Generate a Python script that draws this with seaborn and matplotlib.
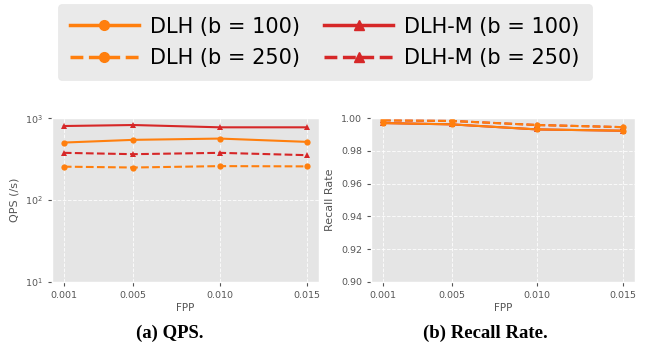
import pandas as pd
import seaborn as sns
import matplotlib.pyplot as plt
from matplotlib.lines import Line2D

# values
fpp = [0.001, 0.005, 0.010, 0.015]
fpp_labels = ['0.001', '0.005', '0.010', '0.015']

qps_dlh_100 = [505, 545, 565, 515]
qps_dlh_250 = [256, 250, 260, 258]
qps_dlhm_100 = [805, 828, 776, 776]
qps_dlhm_250 = [378, 364, 378, 354]

rec_dlh_100 = [0.9971, 0.9963, 0.9932, 0.9924]
rec_dlh_250 = [0.9988, 0.9984, 0.9959, 0.9946]
rec_dlhm_100 = [0.9971, 0.9963, 0.9932, 0.9924]
rec_dlhm_250 = [0.9988, 0.9984, 0.9959, 0.9946]

labels = ['DLH (b = 100)', 'DLH (b = 250)', 'DLH-M (b = 100)', 'DLH-M (b = 250)']
orange = '#ff7f0e'
red = '#d62728'

plt.style.use('ggplot')
plt.rcParams['font.family'] = ['DejaVu Sans']

fig = plt.figure(figsize=(6.55, 3.48), dpi=100)
ax1 = fig.add_axes([0.0789, 0.1905, 0.408, 0.4695])
ax2 = fig.add_axes([0.5664, 0.1905, 0.403, 0.4695])

# (series, colour, dashed, marker) -- DLH-M first so DLH lands on top
series_qps = [(qps_dlhm_100, red, False, '^'), (qps_dlhm_250, red, True, '^'),
              (qps_dlh_100, orange, False, 'o'), (qps_dlh_250, orange, True, 'o')]
series_rec = [(rec_dlhm_100, red, False, '^'), (rec_dlhm_250, red, True, '^'),
              (rec_dlh_100, orange, False, 'o'), (rec_dlh_250, orange, True, 'o')]

for ax, series in [(ax1, series_qps), (ax2, series_rec)]:
    for vals, col, dashed, mk in series:
        df = pd.DataFrame({'FPP': fpp, 'v': vals})
        sns.lineplot(data=df, x='FPP', y='v', ax=ax, color=col, marker=mk,
                     markersize=4.5, markeredgewidth=0, linewidth=1.5,
                     linestyle='--' if dashed else '-')
    ax.set_xticks(fpp)
    ax.set_xticklabels(fpp_labels)
    ax.set_xlabel('FPP', fontsize=7.5, color='#555555', labelpad=2)
    ax.tick_params(labelsize=6.8, colors='#555555', length=3)
    ax.grid(True, color='white', linestyle='--', linewidth=0.7, alpha=0.8)

ax1.set_yscale('log')
ax1.set_ylim(10, 1000)
ax1.set_ylabel('QPS (/s)', fontsize=8, color='#555555')
ax1.minorticks_off()

ax2.set_ylim(0.90, 1.00)
ax2.set_yticks([0.90, 0.92, 0.94, 0.96, 0.98, 1.00])
ax2.set_yticklabels(['0.90', '0.92', '0.94', '0.96', '0.98', '1.00'])
ax2.set_ylabel('Recall Rate', fontsize=8, color='#555555')

handles = [
    Line2D([], [], color=orange, marker='o', linestyle='-', linewidth=2.5, markersize=7),
    Line2D([], [], color=orange, marker='o', linestyle='--', linewidth=2.5, markersize=7),
    Line2D([], [], color=red, marker='^', linestyle='-', linewidth=2.5, markersize=7),
    Line2D([], [], color=red, marker='^', linestyle='--', linewidth=2.5, markersize=7),
]
leg = fig.legend(handles, labels, ncol=2, loc='upper center', bbox_to_anchor=(0.496, 1 - 4 / 348),
                 borderaxespad=0, fontsize=15, handlelength=3.3, handletextpad=0.55,
                 columnspacing=1.15, labelspacing=0.55, borderpad=0.6, frameon=True, fancybox=True)
leg.get_frame().set_facecolor('#e5e5e5')
leg.get_frame().set_edgecolor('#e5e5e5')
for t in leg.get_texts():
    t.set_color('black')

fig.text(170 / 655, 1 - 333 / 348, '(a) QPS.', ha='center', va='center',
         fontsize=13.5, fontweight='bold', family='Liberation Serif')
fig.text(485.5 / 655, 1 - 333 / 348, '(b) Recall Rate.', ha='center', va='center',
         fontsize=13.5, fontweight='bold', family='Liberation Serif')

fig.savefig('out.png', dpi=100)
